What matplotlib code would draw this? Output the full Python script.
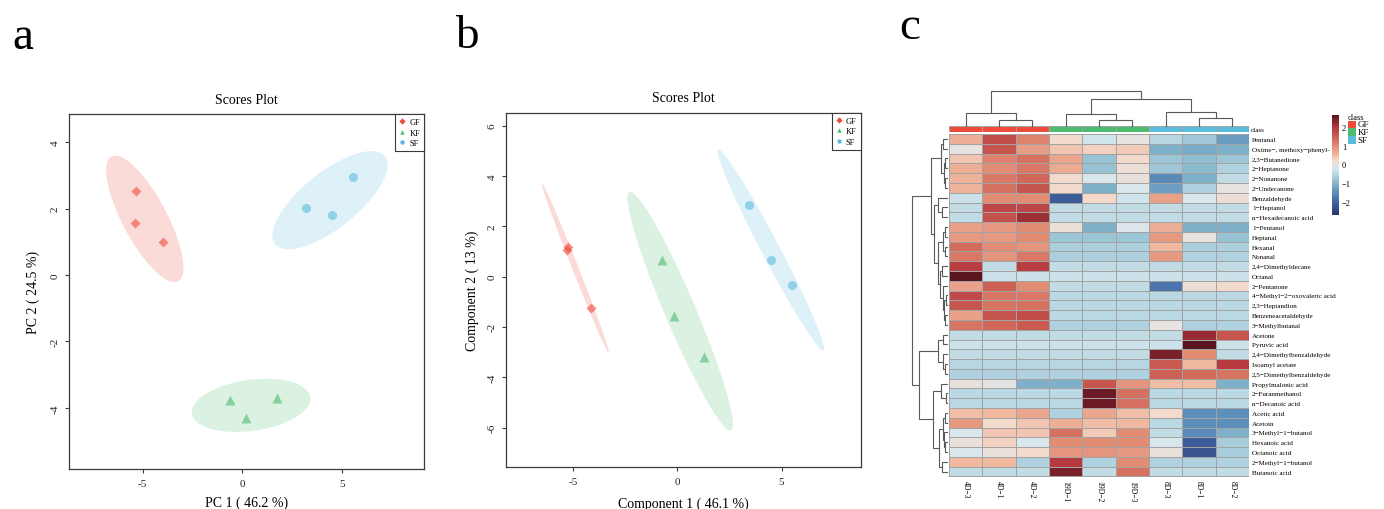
import numpy as np
import matplotlib
matplotlib.use("Agg")
import matplotlib.pyplot as plt
from matplotlib.colors import LinearSegmentedColormap, ListedColormap, Normalize
from matplotlib.lines import Line2D
from matplotlib.patches import Rectangle

plt.rcParams['font.family'] = ['Liberation Serif', 'DejaVu Serif']
plt.rcParams['axes.unicode_minus'] = False

W, H = 1384, 510
fig = plt.figure(figsize=(W / 100, H / 100), dpi=100)


def px_axes(left, top, right, bottom):
    return fig.add_axes([left / W, 1 - bottom / H, (right - left) / W, (bottom - top) / H])


# ---------------------------------------------------------------- groups
groups = ['GF', 'KF', 'SF']
group_colors = ['#EE4B3B', '#4DBB6D', '#5CBCDD']
group_markers = ['D', '^', 'o']
group_msize = [5.0, 7.5, 6.5]

# ---------------------------------------------------------------- panel a: PCA scores
pca_pc1 = [[-5.33, -5.37, -3.98], [-0.63, 0.19, 1.76], [3.18, 4.48, 5.54]]
pca_pc2 = [[2.53, 1.56, 0.99], [-3.76, -4.30, -3.71], [2.02, 1.80, 2.94]]
pca_xlabel = 'PC 1 ( 46.2 %)'
pca_ylabel = 'PC 2 ( 24.5 %)'

# ---------------------------------------------------------------- panel b: PLS-DA scores
pls_c1 = [[-5.23, -5.30, -4.13], [-0.73, -0.14, 1.28], [3.43, 4.51, 5.52]]
pls_c2 = [[1.18, 1.05, -1.26], [0.66, -1.57, -3.20], [2.85, 0.66, -0.34]]
pls_xlabel = 'Component 1 ( 46.1 %)'
pls_ylabel = 'Component 2 ( 13 %)'

# ---------------------------------------------------------------- panel c: heatmap
samples = ['4D−3', '4D−1', '4D−2', '19D−1', '19D−2', '19D−3', '8D−3', '8D−1', '8D−2']
sample_group = [0, 0, 0, 1, 1, 1, 2, 2, 2]
compounds = [
    'Pentanal', 'Oxime−, methoxy−phenyl-', '2,3−Butanedione', '2−Heptanone',
    '2−Nonanone', '2−Undecanone', 'Benzaldehyde', '1−Heptanol',
    'n−Hexadecanoic acid', '1−Pentanol', 'Heptanal', 'Hexanal', 'Nonanal',
    '2,4−Dimethyldecane', 'Octanal', '2−Pentanone', '4−Methyl−2−oxovaleric acid',
    '2,3−Heptandion', 'Benzeneacetaldehyde', '3−Methylbutanal', 'Acetone',
    'Pyruvic acid', '2,4−Dimethylbenzaldehyde', 'Isoamyl acetate',
    '2,5−Dimethylbenzaldehyde', 'Propylmalonic acid', '2−Furanmethanol',
    'n−Decanoic acid', 'Acetic acid', 'Acetoin', '3−Methyl−1−butanol',
    'Hexanoic acid', 'Octanoic acid', '2−Methyl−1−butanol', 'Butanoic acid',
]
# row-scaled abundances (z-scores)
zscores = [
    [0.60, 1.70, 1.10, 0.20, -0.30, 0.00, -0.55, -0.75, -1.35],
    [0.00, 1.60, 0.80, 0.40, 0.30, 0.35, -1.10, -1.15, -1.10],
    [0.40, 1.10, 1.30, 0.70, -0.85, 0.20, -0.80, -0.90, -0.80],
    [0.60, 1.00, 1.20, 0.65, -0.85, 0.10, -0.75, -0.95, -0.60],
    [0.55, 1.20, 1.40, 0.20, -0.20, 0.05, -1.55, -1.10, -0.45],
    [0.55, 1.30, 1.60, 0.20, -1.10, -0.20, -1.30, -0.60, 0.00],
    [-0.35, 1.00, 1.00, -2.10, 0.25, -0.30, 0.75, -0.20, 0.12],
    [-0.45, 1.80, 1.80, -0.45, -0.45, -0.45, -0.45, -0.45, -0.45],
    [-0.45, 1.65, 2.15, -0.45, -0.45, -0.45, -0.45, -0.45, -0.45],
    [0.75, 0.85, 1.00, 0.10, -1.10, -0.15, 0.60, -1.10, -1.10],
    [0.85, 0.85, 1.00, -0.80, -0.80, -0.80, 0.85, 0.00, -0.85],
    [1.35, 1.00, 0.90, -0.65, -0.65, -0.65, 0.50, -0.65, -0.65],
    [1.20, 0.90, 1.20, -0.65, -0.65, -0.65, 0.85, -0.60, -0.60],
    [1.90, -0.45, 1.90, -0.45, -0.45, -0.45, -0.45, -0.45, -0.45],
    [2.67, -0.33, -0.33, -0.33, -0.33, -0.33, -0.33, -0.33, -0.33],
    [0.75, 1.45, 1.00, -0.45, -0.45, -0.45, -1.80, 0.10, 0.20],
    [1.75, 1.25, 1.20, -0.50, -0.50, -0.50, -0.50, -0.50, -0.50],
    [1.60, 1.25, 1.30, -0.50, -0.50, -0.50, -0.50, -0.50, -0.50],
    [0.75, 1.60, 1.70, -0.50, -0.50, -0.50, -0.50, -0.50, -0.50],
    [1.25, 1.40, 1.55, -0.60, -0.60, -0.60, 0.00, -0.60, -0.60],
    [-0.45, -0.45, -0.45, -0.45, -0.45, -0.45, -0.45, 2.20, 1.60],
    [-0.33, -0.33, -0.33, -0.33, -0.33, -0.33, -0.33, 2.67, -0.33],
    [-0.45, -0.45, -0.45, -0.45, -0.45, -0.45, 2.40, 1.00, -0.45],
    [-0.55, -0.55, -0.55, -0.55, -0.55, -0.55, 1.55, 0.50, 1.95],
    [-0.60, -0.60, -0.60, -0.60, -0.60, -0.60, 1.45, 1.35, 1.25],
    [0.05, -0.05, -1.10, -1.10, 1.60, 0.90, 0.45, 0.45, -1.10],
    [-0.50, -0.50, -0.50, -0.50, 2.50, 1.30, -0.50, -0.50, -0.50],
    [-0.50, -0.50, -0.50, -0.50, 2.50, 1.30, -0.50, -0.50, -0.50],
    [0.45, 0.50, 0.70, -0.60, 0.70, 0.45, 0.20, -1.50, -1.50],
    [0.85, 0.20, 0.40, 0.60, 0.45, 0.50, -0.50, -1.50, -1.50],
    [-0.20, 0.40, 0.40, 1.30, 0.35, 1.00, -0.45, -1.55, -1.10],
    [0.05, 0.30, -0.20, 1.00, 1.00, 1.00, -0.20, -2.10, -0.70],
    [-0.20, 0.05, 0.20, 0.90, 0.90, 0.85, 0.05, -2.20, -0.70],
    [0.50, 0.50, -0.60, 1.95, -0.60, 1.00, -0.60, -0.60, -0.60],
    [-0.45, -0.45, -0.45, 2.40, -0.45, 1.30, -0.45, -0.45, -0.45],
]

# hierarchical clustering of compounds: (left, right, height), linkage style
row_merges = [
    (2, 3, 0.06), (4, 5, 0.05), (35, 36, 0.09), (0, 1, 0.12), (38, 37, 0.18),
    (7, 8, 0.13), (6, 40, 0.25),
    (9, 10, 0.06), (11, 12, 0.07), (42, 43, 0.12),
    (13, 14, 0.13), (16, 17, 0.04), (18, 19, 0.06), (46, 47, 0.08),
    (15, 48, 0.12), (45, 49, 0.20), (44, 50, 0.27), (41, 51, 0.38), (39, 52, 0.45),
    (20, 21, 0.12), (23, 24, 0.06), (22, 55, 0.12), (54, 56, 0.25),
    (26, 27, 0.04), (25, 58, 0.18), (28, 29, 0.06), (31, 32, 0.05), (30, 61, 0.08),
    (60, 62, 0.11), (33, 34, 0.15), (63, 64, 0.22), (59, 65, 0.40), (57, 66, 0.81),
    (53, 67, 1.00),
]
# hierarchical clustering of samples
col_merges = [
    (1, 2, 0.19), (0, 9, 0.37), (4, 5, 0.19), (3, 11, 0.36),
    (7, 8, 0.25), (6, 13, 0.40), (12, 14, 0.78), (10, 15, 1.00),
]

# colour scale of the heatmap
scale_vals = [-2.71, -2.0, -1.5, -1.0, -0.5, -0.25, 0.0, 0.25, 0.5, 1.0, 1.5, 2.0, 2.64]
scale_cols = ['#2a3466', '#4064a2', '#5d90bb', '#86b7cd', '#bcd9e4', '#d5e7ee', '#e7e3e1',
              '#f4d8c9', '#efb89f', '#e38c74', '#cc5e53', '#b3363d', '#5a1420']


# ---------------------------------------------------------------- helpers
def conf_ellipse(x, y, level=0.95, n=240):
    pts = np.column_stack([x, y])
    centre = pts.mean(axis=0)
    cov = np.cov(pts, rowvar=False)
    radius = np.sqrt(-2.0 * np.log(1.0 - level))
    vals, vecs = np.linalg.eigh(cov)
    t = np.linspace(0, 2 * np.pi, n)
    circ = np.vstack([np.cos(t), np.sin(t)])
    e = vecs @ (np.sqrt(np.maximum(vals, 0))[:, None] * circ) * radius
    return centre[0] + e[0], centre[1] + e[1]


def scores_panel(box, xs, ys, xlim, ylim, xticks, yticks, xlabel, ylabel, title_y, xlab_y, ylab_x):
    left, top, right, bottom = box
    ax = px_axes(left, top, right, bottom)
    for g in range(len(groups)):
        ex, ey = conf_ellipse(xs[g], ys[g])
        ax.fill(ex, ey, color=group_colors[g], alpha=0.2, lw=0, zorder=1)
    for g in range(len(groups)):
        ax.plot(xs[g], ys[g], ls='none', marker=group_markers[g], ms=group_msize[g],
                mfc=group_colors[g], mec='none', alpha=0.6, zorder=3)
    ax.set_xlim(*xlim)
    ax.set_ylim(*ylim)
    ax.set_xticks(xticks)
    ax.set_yticks(yticks)
    for s in ax.spines.values():
        s.set_color('#3a3a3a')
        s.set_linewidth(0.9)
    ax.tick_params(direction='out', length=3, width=0.8, color='#3a3a3a',
                   labelsize=8, pad=4, labelcolor='#222222')
    plt.setp(ax.get_yticklabels(), rotation=90, va='center')
    w = right - left
    h = bottom - top
    ax.set_xlabel(xlabel, fontsize=10, va='center')
    ax.xaxis.set_label_coords(0.5, -(xlab_y - bottom) / h)
    ax.set_ylabel(ylabel, fontsize=10, va='center')
    ax.yaxis.set_label_coords(-(left - ylab_x) / w, 0.5)
    ax.text(0.5, 1 + (top - title_y) / h, 'Scores Plot', transform=ax.transAxes,
            ha='center', va='center', fontsize=10)
    handles = [Line2D([], [], ls='none', marker=group_markers[g], ms=3.2,
                      mfc=group_colors[g], mec='none') for g in range(len(groups))]
    leg = ax.legend(handles, groups, loc='upper right', borderaxespad=0, fancybox=False,
                    edgecolor='#3a3a3a', framealpha=1, fontsize=6, handlelength=0.7,
                    handletextpad=0.5, labelspacing=0.3, borderpad=0.5)
    leg.get_frame().set_linewidth(0.8)
    return ax


def draw_tree(ax, merges, n_leaves, orientation):
    pos = list(np.arange(n_leaves) + 0.5)
    hts = [0.0] * n_leaves
    for a, b, h in merges:
        pa, pb, ha, hb = pos[a], pos[b], hts[a], hts[b]
        if orientation == 'top':
            ax.plot([pa, pa, pb, pb], [ha, h, h, hb], color='#5a5a5a', lw=0.8,
                    solid_joinstyle='miter', clip_on=False)
        else:
            ax.plot([ha, h, h, hb], [pa, pa, pb, pb], color='#5a5a5a', lw=0.8,
                    solid_joinstyle='miter', clip_on=False)
        pos.append((pa + pb) / 2)
        hts.append(h)


# ---------------------------------------------------------------- panels a and b
scores_panel((69.3, 115, 424.3, 470), pca_pc1, pca_pc2, (-8.68, 9.13), (-5.84, 4.85),
             [-5, 0, 5], [-4, -2, 0, 2, 4], pca_xlabel, pca_ylabel,
             title_y=100, xlab_y=503, ylab_x=33)
scores_panel((506, 113.7, 860.7, 468.3), pls_c1, pls_c2, (-8.22, 8.80), (-7.58, 6.51),
             [-5, 0, 5], [-6, -4, -2, 0, 2, 4, 6], pls_xlabel, pls_ylabel,
             title_y=98.7, xlab_y=504, ylab_x=472.7)

# ---------------------------------------------------------------- panel c
vmin, vmax = scale_vals[0], scale_vals[-1]
cmap = LinearSegmentedColormap.from_list(
    'heat', [((v - vmin) / (vmax - vmin), c) for v, c in zip(scale_vals, scale_cols)])
norm = Normalize(vmin=vmin, vmax=vmax)

hm_left, hm_top, hm_right, hm_bottom = 949, 135, 1249, 477.5
n_rows, n_cols = len(compounds), len(samples)

ax_hm = px_axes(hm_left, hm_top, hm_right, hm_bottom)
ax_hm.pcolormesh(np.array(zscores), cmap=cmap, norm=norm, edgecolors='#a3a3a3', linewidth=0.6)
ax_hm.set_xlim(0, n_cols)
ax_hm.set_ylim(n_rows, 0)
for s in ax_hm.spines.values():
    s.set_visible(False)
ax_hm.yaxis.tick_right()
ax_hm.set_yticks(np.arange(n_rows) + 0.5)
ax_hm.set_yticklabels(compounds, fontsize=5.1)
ax_hm.set_xticks(np.arange(n_cols) + 0.5)
ax_hm.set_xticklabels(samples, fontsize=5.5, rotation=270, va='top', ha='center')
ax_hm.tick_params(length=0, pad=2.2)

# class annotation bar
ax_an = px_axes(hm_left, 127.3, hm_right, 132.7)
ax_an.pcolormesh(np.array([sample_group]), cmap=ListedColormap(group_colors),
                 vmin=-0.5, vmax=2.5, edgecolors='#a3a3a3', linewidth=0.5)
ax_an.set_xlim(0, n_cols)
ax_an.set_axis_off()
ax_an.text(1.005, 0.5, 'class', transform=ax_an.transAxes, ha='left', va='center', fontsize=5.1)

# dendrograms
ax_cd = px_axes(hm_left, 92.3, hm_right, 127.3)
draw_tree(ax_cd, col_merges, n_cols, 'top')
ax_cd.set_xlim(0, n_cols)
ax_cd.set_ylim(0, 1)
ax_cd.set_axis_off()

ax_rd = px_axes(912.3, hm_top, 947, hm_bottom)
draw_tree(ax_rd, row_merges, n_rows, 'left')
ax_rd.set_xlim(1, 0)
ax_rd.set_ylim(n_rows, 0)
ax_rd.set_axis_off()

# colour key
ax_cb = px_axes(1332, 116, 1339, 216)
grad = np.linspace(vmin, vmax, 256)[:, None]
ax_cb.pcolormesh([0, 1], np.linspace(vmin, vmax, 257), grad, cmap=cmap, norm=norm)
ax_cb.set_xlim(0, 1)
ax_cb.set_ylim(vmin, vmax)
ax_cb.set_xticks([])
ax_cb.yaxis.tick_right()
ax_cb.set_yticks([-2, -1, 0, 1, 2])
ax_cb.set_yticklabels(['−2', '−1', '0', '1', '2'], fontsize=6)
ax_cb.tick_params(length=0, pad=2)
for s in ax_cb.spines.values():
    s.set_visible(False)

# overlay for panel letters and the class legend
ov = fig.add_axes([0, 0, 1, 1], zorder=10)
ov.set_xlim(0, W)
ov.set_ylim(H, 0)
ov.set_axis_off()
ov.patch.set_alpha(0)
for letter, x, y in [('a', 12, 49), ('b', 455, 48), ('c', 899, 39)]:
    ov.text(x, y, letter, fontsize=34, ha='left', va='baseline')

ov.text(1348, 117.5, 'class', fontsize=6, ha='left', va='center')
for g, name in enumerate(groups):
    y0 = 121.5 + g * 7.8
    ov.add_patch(Rectangle((1348, y0), 8, 7.6, facecolor=group_colors[g], edgecolor='none'))
    ov.text(1357.5, y0 + 3.8, name, fontsize=6.5, ha='left', va='center')

fig.savefig('out.png', dpi=100)
